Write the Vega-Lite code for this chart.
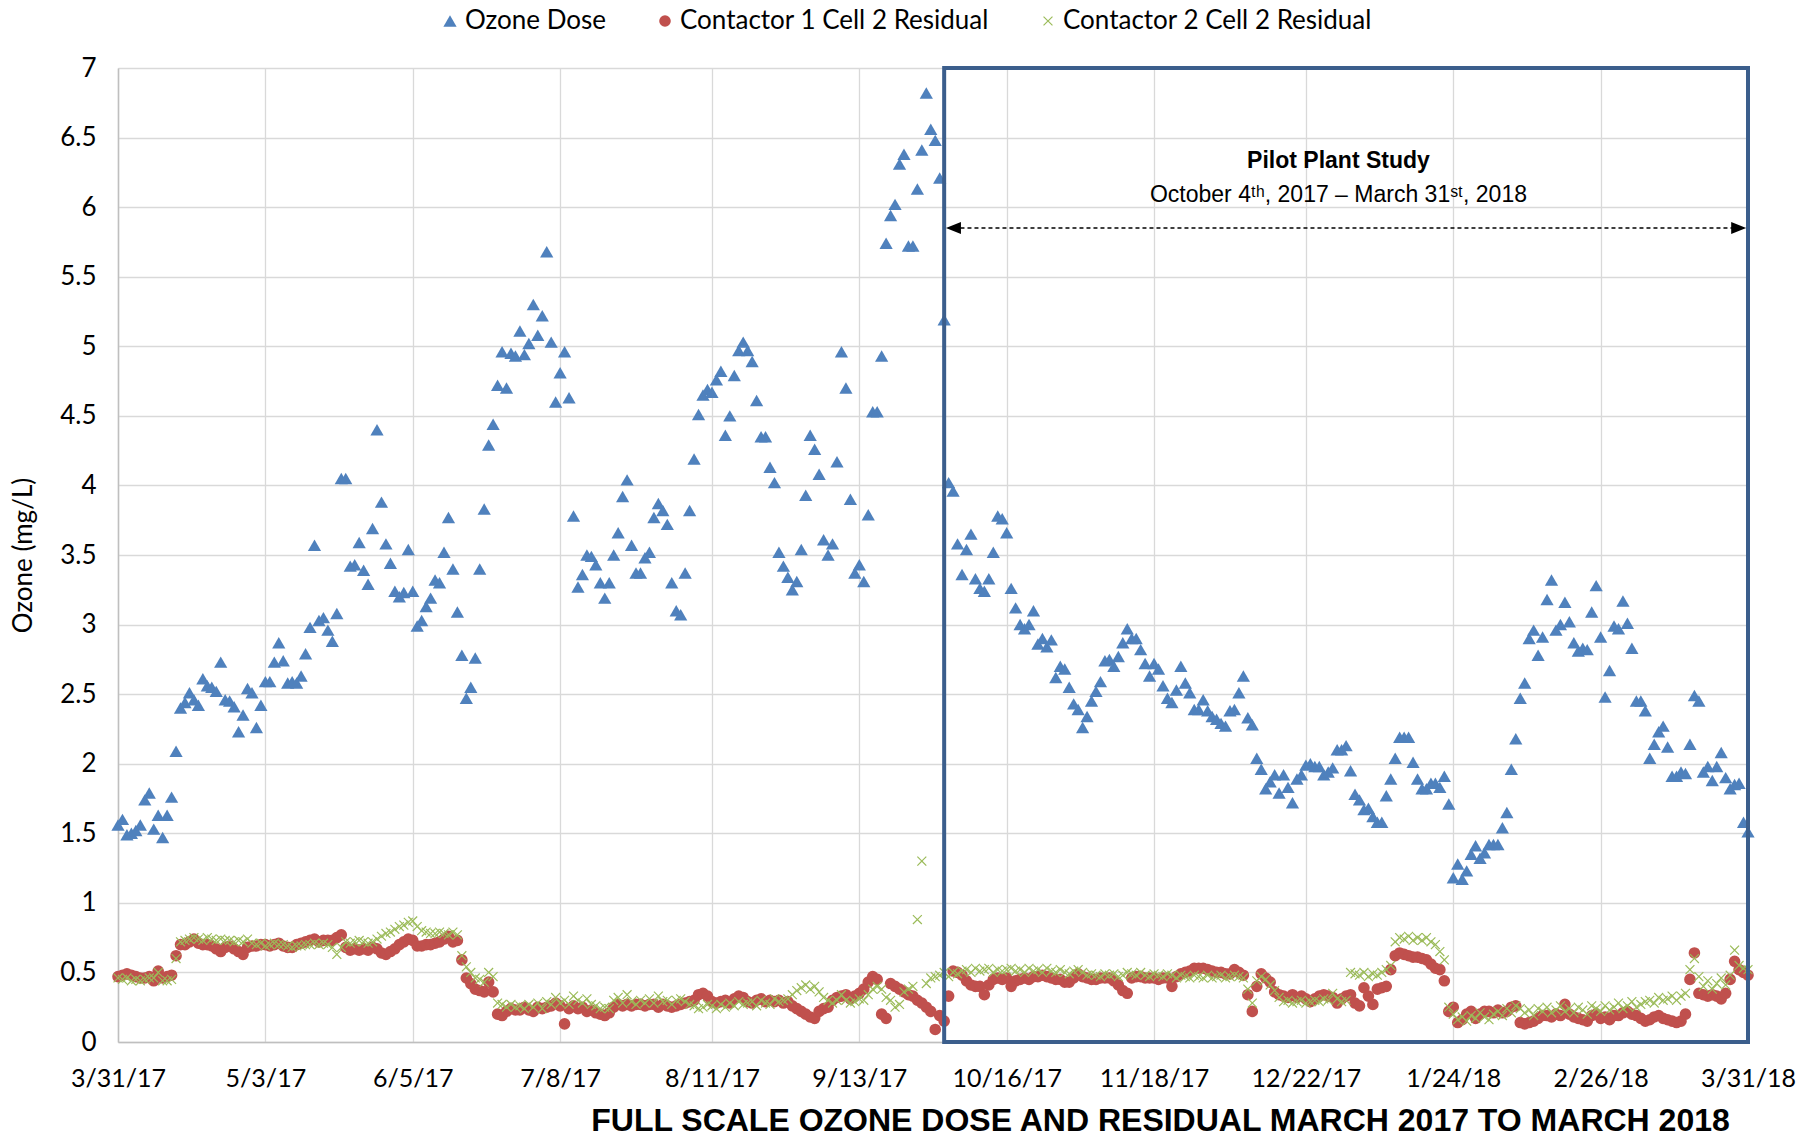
{
"$schema":"https://vega.github.io/schema/vega-lite/v6.json",
"width":1630,"height":974,
"autosize":{"type":"none"},
"padding":{"left":118,"top":68,"right":70,"bottom":96},
"background":"white",
"config":{"font":"Lato","view":{"stroke":null}},
"layer":[
{"data":{"values":[
{"d":"2017-03-31","o":1.56,"a":0.47,"b":0.46},{"d":"2017-04-01","o":1.60,"a":0.48,"b":0.45},{"d":"2017-04-02","o":1.49,"a":0.49,"b":0.46},{"d":"2017-04-03","o":1.50,"a":0.48,"b":0.44},{"d":"2017-04-04","o":1.52,"a":0.47,"b":0.45},{"d":"2017-04-05","o":1.56,"a":0.46,"b":0.44},{"d":"2017-04-06","o":1.74,"a":0.46,"b":0.45},{"d":"2017-04-07","o":1.79,"a":0.47,"b":0.46},{"d":"2017-04-08","o":1.53,"a":0.44,"b":0.46},{"d":"2017-04-09","o":1.63,"a":0.51,"b":0.50},
{"d":"2017-04-10","o":1.47,"a":0.46,"b":0.44},{"d":"2017-04-11","o":1.63,"a":0.47,"b":0.44},{"d":"2017-04-12","o":1.76,"a":0.48,"b":0.45},{"d":"2017-04-13","o":2.09,"a":0.62,"b":0.60},{"d":"2017-04-14","o":2.40,"a":0.70,"b":0.72},{"d":"2017-04-15","o":2.44,"a":0.70,"b":0.73},{"d":"2017-04-16","o":2.51,"a":0.72,"b":0.74},{"d":"2017-04-17","o":2.46,"a":0.74,"b":0.75},{"d":"2017-04-18","o":2.42,"a":0.71,"b":0.74},{"d":"2017-04-19","o":2.61,"a":0.70,"b":0.73},
{"d":"2017-04-20","o":2.56,"a":0.70,"b":0.75},{"d":"2017-04-21","o":2.55,"a":0.69,"b":0.74},{"d":"2017-04-22","o":2.52,"a":0.67,"b":0.73},{"d":"2017-04-23","o":2.73,"a":0.65,"b":0.74},{"d":"2017-04-24","o":2.46,"a":0.68,"b":0.73},{"d":"2017-04-25","o":2.45,"a":0.69,"b":0.73},{"d":"2017-04-26","o":2.41,"a":0.67,"b":0.72},{"d":"2017-04-27","o":2.23,"a":0.65,"b":0.73},{"d":"2017-04-28","o":2.35,"a":0.63,"b":0.72},{"d":"2017-04-29","o":2.54,"a":0.68,"b":0.74},
{"d":"2017-04-30","o":2.51,"a":0.69,"b":0.71},{"d":"2017-05-01","o":2.26,"a":0.69,"b":0.70},{"d":"2017-05-02","o":2.42,"a":0.70,"b":0.71},{"d":"2017-05-03","o":2.59,"a":0.70,"b":0.69},{"d":"2017-05-04","o":2.59,"a":0.69,"b":0.70},{"d":"2017-05-05","o":2.73,"a":0.70,"b":0.71},{"d":"2017-05-06","o":2.87,"a":0.71,"b":0.70},{"d":"2017-05-07","o":2.74,"a":0.69,"b":0.70},{"d":"2017-05-08","o":2.58,"a":0.68,"b":0.69},{"d":"2017-05-09","o":2.59,"a":0.68,"b":0.68},
{"d":"2017-05-10","o":2.58,"a":0.70,"b":0.69},{"d":"2017-05-11","o":2.63,"a":0.71,"b":0.69},{"d":"2017-05-12","o":2.79,"a":0.72,"b":0.70},{"d":"2017-05-13","o":2.98,"a":0.73,"b":0.70},{"d":"2017-05-14","o":3.57,"a":0.74,"b":0.71},{"d":"2017-05-15","o":3.03,"a":0.72,"b":0.70},{"d":"2017-05-16","o":3.05,"a":0.73,"b":0.71},{"d":"2017-05-17","o":2.96,"a":0.73,"b":0.70},{"d":"2017-05-18","o":2.88,"a":0.73,"b":0.68},{"d":"2017-05-19","o":3.08,"a":0.75,"b":0.63},
{"d":"2017-05-20","o":4.05,"a":0.77,"b":0.68},{"d":"2017-05-21","o":4.05,"a":0.68,"b":0.72},{"d":"2017-05-22","o":3.42,"a":0.66,"b":0.71},{"d":"2017-05-23","o":3.43,"a":0.67,"b":0.72},{"d":"2017-05-24","o":3.59,"a":0.66,"b":0.73},{"d":"2017-05-25","o":3.39,"a":0.67,"b":0.72},{"d":"2017-05-26","o":3.29,"a":0.66,"b":0.71},{"d":"2017-05-27","o":3.69,"a":0.68,"b":0.72},{"d":"2017-05-28","o":4.40,"a":0.67,"b":0.74},{"d":"2017-05-29","o":3.88,"a":0.64,"b":0.76},
{"d":"2017-05-30","o":3.58,"a":0.63,"b":0.78},{"d":"2017-05-31","o":3.44,"a":0.65,"b":0.79},{"d":"2017-06-01","o":3.24,"a":0.67,"b":0.81},{"d":"2017-06-02","o":3.20,"a":0.70,"b":0.83},{"d":"2017-06-03","o":3.23,"a":0.72,"b":0.84},{"d":"2017-06-04","o":3.54,"a":0.74,"b":0.86},{"d":"2017-06-05","o":3.24,"a":0.73,"b":0.87},{"d":"2017-06-06","o":2.99,"a":0.69,"b":0.83},{"d":"2017-06-07","o":3.03,"a":0.69,"b":0.80},{"d":"2017-06-08","o":3.13,"a":0.70,"b":0.79},
{"d":"2017-06-09","o":3.19,"a":0.70,"b":0.78},{"d":"2017-06-10","o":3.32,"a":0.71,"b":0.78},{"d":"2017-06-11","o":3.30,"a":0.72,"b":0.79},{"d":"2017-06-12","o":3.52,"a":0.74,"b":0.78},{"d":"2017-06-13","o":3.77,"a":0.76,"b":0.77},{"d":"2017-06-14","o":3.40,"a":0.72,"b":0.79},{"d":"2017-06-15","o":3.09,"a":0.73,"b":0.77},{"d":"2017-06-16","o":2.78,"a":0.59,"b":0.62},{"d":"2017-06-17","o":2.47,"a":0.46,"b":0.54},{"d":"2017-06-18","o":2.55,"a":0.42,"b":0.50},
{"d":"2017-06-19","o":2.76,"a":0.38,"b":0.46},{"d":"2017-06-20","o":3.40,"a":0.37,"b":0.45},{"d":"2017-06-21","o":3.83,"a":0.36,"b":0.43},{"d":"2017-06-22","o":4.29,"a":0.43,"b":0.50},{"d":"2017-06-23","o":4.44,"a":0.36,"b":0.47},{"d":"2017-06-24","o":4.72,"a":0.20,"b":0.28},{"d":"2017-06-25","o":4.96,"a":0.19,"b":0.27},{"d":"2017-06-26","o":4.70,"a":0.22,"b":0.25},{"d":"2017-06-27","o":4.95,"a":0.24,"b":0.27},{"d":"2017-06-28","o":4.93,"a":0.23,"b":0.25},
{"d":"2017-06-29","o":5.11,"a":0.23,"b":0.26},{"d":"2017-06-30","o":4.94,"a":0.25,"b":0.24},{"d":"2017-07-01","o":5.02,"a":0.23,"b":0.27},{"d":"2017-07-02","o":5.30,"a":0.22,"b":0.25},{"d":"2017-07-03","o":5.08,"a":0.25,"b":0.28},{"d":"2017-07-04","o":5.22,"a":0.24,"b":0.24},{"d":"2017-07-05","o":5.68,"a":0.25,"b":0.29},{"d":"2017-07-06","o":5.03,"a":0.26,"b":0.27},{"d":"2017-07-07","o":4.60,"a":0.28,"b":0.32},{"d":"2017-07-08","o":4.81,"a":0.26,"b":0.28},
{"d":"2017-07-09","o":4.96,"a":0.13,"b":0.30},{"d":"2017-07-10","o":4.63,"a":0.24,"b":0.27},{"d":"2017-07-11","o":3.78,"a":0.26,"b":0.33},{"d":"2017-07-12","o":3.27,"a":0.24,"b":0.30},{"d":"2017-07-13","o":3.36,"a":0.25,"b":0.28},{"d":"2017-07-14","o":3.50,"a":0.22,"b":0.31},{"d":"2017-07-15","o":3.49,"a":0.23,"b":0.27},{"d":"2017-07-16","o":3.43,"a":0.21,"b":0.26},{"d":"2017-07-17","o":3.30,"a":0.20,"b":0.24},{"d":"2017-07-18","o":3.19,"a":0.19,"b":0.25},
{"d":"2017-07-19","o":3.30,"a":0.21,"b":0.24},{"d":"2017-07-20","o":3.50,"a":0.25,"b":0.30},{"d":"2017-07-21","o":3.66,"a":0.27,"b":0.32},{"d":"2017-07-22","o":3.92,"a":0.26,"b":0.28},{"d":"2017-07-23","o":4.04,"a":0.27,"b":0.34},{"d":"2017-07-24","o":3.57,"a":0.26,"b":0.29},{"d":"2017-07-25","o":3.37,"a":0.27,"b":0.27},{"d":"2017-07-26","o":3.37,"a":0.27,"b":0.30},{"d":"2017-07-27","o":3.48,"a":0.26,"b":0.28},{"d":"2017-07-28","o":3.52,"a":0.27,"b":0.31},
{"d":"2017-07-29","o":3.77,"a":0.27,"b":0.28},{"d":"2017-07-30","o":3.87,"a":0.25,"b":0.33},{"d":"2017-07-31","o":3.82,"a":0.27,"b":0.29},{"d":"2017-08-01","o":3.72,"a":0.26,"b":0.30},{"d":"2017-08-02","o":3.30,"a":0.25,"b":0.27},{"d":"2017-08-03","o":3.10,"a":0.26,"b":0.30},{"d":"2017-08-04","o":3.07,"a":0.27,"b":0.31},{"d":"2017-08-05","o":3.37,"a":0.28,"b":0.29},{"d":"2017-08-06","o":3.82,"a":0.29,"b":0.27},{"d":"2017-08-07","o":4.19,"a":0.30,"b":0.26},
{"d":"2017-08-08","o":4.51,"a":0.34,"b":0.24},{"d":"2017-08-09","o":4.65,"a":0.35,"b":0.25},{"d":"2017-08-10","o":4.69,"a":0.33,"b":0.27},{"d":"2017-08-11","o":4.67,"a":0.29,"b":0.26},{"d":"2017-08-12","o":4.76,"a":0.28,"b":0.24},{"d":"2017-08-13","o":4.82,"a":0.29,"b":0.27},{"d":"2017-08-14","o":4.36,"a":0.30,"b":0.25},{"d":"2017-08-15","o":4.50,"a":0.28,"b":0.28},{"d":"2017-08-16","o":4.79,"a":0.31,"b":0.26},{"d":"2017-08-17","o":4.97,"a":0.33,"b":0.29},
{"d":"2017-08-18","o":5.03,"a":0.32,"b":0.27},{"d":"2017-08-19","o":4.97,"a":0.29,"b":0.28},{"d":"2017-08-20","o":4.89,"a":0.28,"b":0.29},{"d":"2017-08-21","o":4.61,"a":0.30,"b":0.26},{"d":"2017-08-22","o":4.35,"a":0.31,"b":0.30},{"d":"2017-08-23","o":4.35,"a":0.29,"b":0.28},{"d":"2017-08-24","o":4.13,"a":0.30,"b":0.27},{"d":"2017-08-25","o":4.02,"a":0.29,"b":0.31},{"d":"2017-08-26","o":3.52,"a":0.30,"b":0.29},{"d":"2017-08-27","o":3.42,"a":0.28,"b":0.30},
{"d":"2017-08-28","o":3.34,"a":0.29,"b":0.31},{"d":"2017-08-29","o":3.25,"a":0.26,"b":0.34},{"d":"2017-08-30","o":3.31,"a":0.24,"b":0.37},{"d":"2017-08-31","o":3.54,"a":0.22,"b":0.39},{"d":"2017-09-01","o":3.93,"a":0.20,"b":0.41},{"d":"2017-09-02","o":4.36,"a":0.18,"b":0.38},{"d":"2017-09-03","o":4.26,"a":0.17,"b":0.40},{"d":"2017-09-04","o":4.08,"a":0.22,"b":0.36},{"d":"2017-09-05","o":3.61,"a":0.24,"b":0.32},{"d":"2017-09-06","o":3.50,"a":0.25,"b":0.30},
{"d":"2017-09-07","o":3.58,"a":0.30,"b":0.28},{"d":"2017-09-08","o":4.17,"a":0.32,"b":0.30},{"d":"2017-09-09","o":4.96,"a":0.33,"b":0.34},{"d":"2017-09-10","o":4.70,"a":0.34,"b":0.30},{"d":"2017-09-11","o":3.90,"a":0.31,"b":0.28},{"d":"2017-09-12","o":3.37,"a":0.33,"b":0.29},{"d":"2017-09-13","o":3.43,"a":0.35,"b":0.31},{"d":"2017-09-14","o":3.31,"a":0.38,"b":0.30},{"d":"2017-09-15","o":3.79,"a":0.43,"b":0.34},{"d":"2017-09-16","o":4.53,"a":0.47,"b":0.38},
{"d":"2017-09-17","o":4.53,"a":0.45,"b":0.40},{"d":"2017-09-18","o":4.93,"a":0.20,"b":0.38},{"d":"2017-09-19","o":5.74,"a":0.17,"b":0.32},{"d":"2017-09-20","o":5.94,"a":0.42,"b":0.30},{"d":"2017-09-21","o":6.02,"a":0.40,"b":0.25},{"d":"2017-09-22","o":6.31,"a":0.38,"b":0.27},{"d":"2017-09-23","o":6.38,"a":0.36,"b":0.36},{"d":"2017-09-24","o":5.72,"a":0.34,"b":0.38},{"d":"2017-09-25","o":5.72,"a":0.33,"b":0.40},{"d":"2017-09-26","o":6.13,"a":0.30,"b":0.88},
{"d":"2017-09-27","o":6.41,"a":0.28,"b":1.30},{"d":"2017-09-28","o":6.82,"a":0.25,"b":0.42},{"d":"2017-09-29","o":6.56,"a":0.22,"b":0.46},{"d":"2017-09-30","o":6.48,"a":0.09,"b":0.47},{"d":"2017-10-01","o":6.21,"a":0.19,"b":0.48},{"d":"2017-10-02","o":5.19,"a":0.15,"b":0.50},{"d":"2017-10-03","o":4.02,"a":0.33,"b":0.47},{"d":"2017-10-04","o":3.96,"a":0.51,"b":0.50},{"d":"2017-10-05","o":3.58,"a":0.50,"b":0.49},{"d":"2017-10-06","o":3.36,"a":0.48,"b":0.51},
{"d":"2017-10-07","o":3.54,"a":0.44,"b":0.52},{"d":"2017-10-08","o":3.65,"a":0.41,"b":0.50},{"d":"2017-10-09","o":3.33,"a":0.40,"b":0.53},{"d":"2017-10-10","o":3.26,"a":0.40,"b":0.51},{"d":"2017-10-11","o":3.24,"a":0.34,"b":0.52},{"d":"2017-10-12","o":3.33,"a":0.41,"b":0.53},{"d":"2017-10-13","o":3.52,"a":0.45,"b":0.50},{"d":"2017-10-14","o":3.78,"a":0.46,"b":0.52},{"d":"2017-10-15","o":3.76,"a":0.45,"b":0.51},{"d":"2017-10-16","o":3.66,"a":0.46,"b":0.52},
{"d":"2017-10-17","o":3.26,"a":0.40,"b":0.53},{"d":"2017-10-18","o":3.12,"a":0.44,"b":0.51},{"d":"2017-10-19","o":3.00,"a":0.45,"b":0.52},{"d":"2017-10-20","o":2.97,"a":0.46,"b":0.50},{"d":"2017-10-21","o":3.00,"a":0.45,"b":0.53},{"d":"2017-10-22","o":3.10,"a":0.47,"b":0.51},{"d":"2017-10-23","o":2.86,"a":0.47,"b":0.52},{"d":"2017-10-24","o":2.90,"a":0.48,"b":0.50},{"d":"2017-10-25","o":2.84,"a":0.47,"b":0.53},{"d":"2017-10-26","o":2.89,"a":0.46,"b":0.51},
{"d":"2017-10-27","o":2.62,"a":0.45,"b":0.50},{"d":"2017-10-28","o":2.70,"a":0.45,"b":0.52},{"d":"2017-10-29","o":2.68,"a":0.43,"b":0.50},{"d":"2017-10-30","o":2.55,"a":0.43,"b":0.49},{"d":"2017-10-31","o":2.43,"a":0.46,"b":0.51},{"d":"2017-11-01","o":2.39,"a":0.49,"b":0.52},{"d":"2017-11-02","o":2.26,"a":0.47,"b":0.50},{"d":"2017-11-03","o":2.34,"a":0.46,"b":0.48},{"d":"2017-11-04","o":2.45,"a":0.45,"b":0.49},{"d":"2017-11-05","o":2.52,"a":0.45,"b":0.48},
{"d":"2017-11-06","o":2.59,"a":0.46,"b":0.47},{"d":"2017-11-07","o":2.74,"a":0.46,"b":0.49},{"d":"2017-11-08","o":2.75,"a":0.46,"b":0.48},{"d":"2017-11-09","o":2.70,"a":0.44,"b":0.49},{"d":"2017-11-10","o":2.77,"a":0.41,"b":0.47},{"d":"2017-11-11","o":2.87,"a":0.37,"b":0.48},{"d":"2017-11-12","o":2.97,"a":0.35,"b":0.50},{"d":"2017-11-13","o":2.90,"a":0.46,"b":0.49},{"d":"2017-11-14","o":2.90,"a":0.47,"b":0.48},{"d":"2017-11-15","o":2.82,"a":0.47,"b":0.50},
{"d":"2017-11-16","o":2.72,"a":0.46,"b":0.48},{"d":"2017-11-17","o":2.63,"a":0.46,"b":0.47},{"d":"2017-11-18","o":2.72,"a":0.46,"b":0.49},{"d":"2017-11-19","o":2.68,"a":0.45,"b":0.48},{"d":"2017-11-20","o":2.56,"a":0.46,"b":0.47},{"d":"2017-11-21","o":2.47,"a":0.46,"b":0.49},{"d":"2017-11-22","o":2.44,"a":0.40,"b":0.48},{"d":"2017-11-23","o":2.53,"a":0.47,"b":0.46},{"d":"2017-11-24","o":2.70,"a":0.49,"b":0.48},{"d":"2017-11-25","o":2.58,"a":0.50,"b":0.47},
{"d":"2017-11-26","o":2.51,"a":0.51,"b":0.46},{"d":"2017-11-27","o":2.39,"a":0.53,"b":0.48},{"d":"2017-11-28","o":2.39,"a":0.53,"b":0.47},{"d":"2017-11-29","o":2.46,"a":0.53,"b":0.46},{"d":"2017-11-30","o":2.38,"a":0.52,"b":0.48},{"d":"2017-12-01","o":2.34,"a":0.51,"b":0.46},{"d":"2017-12-02","o":2.32,"a":0.50,"b":0.47},{"d":"2017-12-03","o":2.29,"a":0.50,"b":0.48},{"d":"2017-12-04","o":2.27,"a":0.49,"b":0.46},{"d":"2017-12-05","o":2.38,"a":0.49,"b":0.47},
{"d":"2017-12-06","o":2.39,"a":0.52,"b":0.48},{"d":"2017-12-07","o":2.51,"a":0.50,"b":0.47},{"d":"2017-12-08","o":2.63,"a":0.48,"b":0.46},{"d":"2017-12-09","o":2.33,"a":0.34,"b":0.38},{"d":"2017-12-10","o":2.28,"a":0.22,"b":0.28},{"d":"2017-12-11","o":2.04,"a":0.40,"b":0.44},{"d":"2017-12-12","o":1.96,"a":0.49,"b":0.47},{"d":"2017-12-13","o":1.82,"a":0.46,"b":0.45},{"d":"2017-12-14","o":1.87,"a":0.43,"b":0.41},{"d":"2017-12-15","o":1.92,"a":0.36,"b":0.37},
{"d":"2017-12-16","o":1.79,"a":0.34,"b":0.32},{"d":"2017-12-17","o":1.92,"a":0.33,"b":0.29},{"d":"2017-12-18","o":1.83,"a":0.32,"b":0.30},{"d":"2017-12-19","o":1.72,"a":0.34,"b":0.28},{"d":"2017-12-20","o":1.89,"a":0.32,"b":0.29},{"d":"2017-12-21","o":1.92,"a":0.33,"b":0.30},{"d":"2017-12-22","o":1.99,"a":0.31,"b":0.28},{"d":"2017-12-23","o":2.00,"a":0.29,"b":0.29},{"d":"2017-12-24","o":1.98,"a":0.31,"b":0.30},{"d":"2017-12-25","o":1.98,"a":0.33,"b":0.29},
{"d":"2017-12-26","o":1.92,"a":0.34,"b":0.31},{"d":"2017-12-27","o":1.94,"a":0.33,"b":0.30},{"d":"2017-12-28","o":1.97,"a":0.32,"b":0.35},{"d":"2017-12-29","o":2.10,"a":0.28,"b":0.31},{"d":"2017-12-30","o":2.10,"a":0.31,"b":0.29},{"d":"2017-12-31","o":2.13,"a":0.33,"b":0.30},{"d":"2018-01-01","o":1.95,"a":0.34,"b":0.50},{"d":"2018-01-02","o":1.78,"a":0.28,"b":0.49},{"d":"2018-01-03","o":1.74,"a":0.26,"b":0.48},{"d":"2018-01-04","o":1.67,"a":0.39,"b":0.50},
{"d":"2018-01-05","o":1.68,"a":0.33,"b":0.47},{"d":"2018-01-06","o":1.62,"a":0.27,"b":0.49},{"d":"2018-01-07","o":1.58,"a":0.38,"b":0.48},{"d":"2018-01-08","o":1.58,"a":0.39,"b":0.50},{"d":"2018-01-09","o":1.77,"a":0.40,"b":0.52},{"d":"2018-01-10","o":1.89,"a":0.52,"b":0.55},{"d":"2018-01-11","o":2.04,"a":0.62,"b":0.72},{"d":"2018-01-12","o":2.19,"a":0.64,"b":0.75},{"d":"2018-01-13","o":2.19,"a":0.63,"b":0.74},{"d":"2018-01-14","o":2.19,"a":0.62,"b":0.76},
{"d":"2018-01-15","o":2.01,"a":0.61,"b":0.73},{"d":"2018-01-16","o":1.89,"a":0.61,"b":0.75},{"d":"2018-01-17","o":1.82,"a":0.60,"b":0.73},{"d":"2018-01-18","o":1.82,"a":0.59,"b":0.75},{"d":"2018-01-19","o":1.86,"a":0.56,"b":0.72},{"d":"2018-01-20","o":1.86,"a":0.53,"b":0.70},{"d":"2018-01-21","o":1.83,"a":0.52,"b":0.65},{"d":"2018-01-22","o":1.91,"a":0.44,"b":0.59},{"d":"2018-01-23","o":1.71,"a":0.22,"b":0.25},{"d":"2018-01-24","o":1.18,"a":0.25,"b":0.20},
{"d":"2018-01-25","o":1.28,"a":0.14,"b":0.16},{"d":"2018-01-26","o":1.17,"a":0.16,"b":0.18},{"d":"2018-01-27","o":1.23,"a":0.20,"b":0.15},{"d":"2018-01-28","o":1.35,"a":0.22,"b":0.19},{"d":"2018-01-29","o":1.41,"a":0.17,"b":0.17},{"d":"2018-01-30","o":1.32,"a":0.20,"b":0.21},{"d":"2018-01-31","o":1.36,"a":0.22,"b":0.18},{"d":"2018-02-01","o":1.42,"a":0.22,"b":0.16},{"d":"2018-02-02","o":1.42,"a":0.21,"b":0.20},{"d":"2018-02-03","o":1.42,"a":0.23,"b":0.22},
{"d":"2018-02-04","o":1.54,"a":0.21,"b":0.19},{"d":"2018-02-05","o":1.65,"a":0.22,"b":0.24},{"d":"2018-02-06","o":1.96,"a":0.25,"b":0.21},{"d":"2018-02-07","o":2.18,"a":0.26,"b":0.26},{"d":"2018-02-08","o":2.47,"a":0.14,"b":0.24},{"d":"2018-02-09","o":2.58,"a":0.13,"b":0.21},{"d":"2018-02-10","o":2.90,"a":0.14,"b":0.23},{"d":"2018-02-11","o":2.96,"a":0.15,"b":0.19},{"d":"2018-02-12","o":2.78,"a":0.17,"b":0.24},{"d":"2018-02-13","o":2.91,"a":0.19,"b":0.22},
{"d":"2018-02-14","o":3.18,"a":0.19,"b":0.25},{"d":"2018-02-15","o":3.32,"a":0.18,"b":0.21},{"d":"2018-02-16","o":2.96,"a":0.20,"b":0.23},{"d":"2018-02-17","o":3.00,"a":0.19,"b":0.26},{"d":"2018-02-18","o":3.16,"a":0.27,"b":0.22},{"d":"2018-02-19","o":3.02,"a":0.20,"b":0.24},{"d":"2018-02-20","o":2.87,"a":0.18,"b":0.21},{"d":"2018-02-21","o":2.81,"a":0.17,"b":0.25},{"d":"2018-02-22","o":2.83,"a":0.16,"b":0.23},{"d":"2018-02-23","o":2.82,"a":0.15,"b":0.20},
{"d":"2018-02-24","o":3.09,"a":0.19,"b":0.26},{"d":"2018-02-25","o":3.28,"a":0.20,"b":0.24},{"d":"2018-02-26","o":2.91,"a":0.17,"b":0.22},{"d":"2018-02-27","o":2.48,"a":0.18,"b":0.26},{"d":"2018-02-28","o":2.67,"a":0.16,"b":0.23},{"d":"2018-03-01","o":2.99,"a":0.19,"b":0.25},{"d":"2018-03-02","o":2.97,"a":0.19,"b":0.28},{"d":"2018-03-03","o":3.17,"a":0.21,"b":0.24},{"d":"2018-03-04","o":3.01,"a":0.22,"b":0.26},{"d":"2018-03-05","o":2.83,"a":0.20,"b":0.29},
{"d":"2018-03-06","o":2.45,"a":0.19,"b":0.25},{"d":"2018-03-07","o":2.45,"a":0.17,"b":0.27},{"d":"2018-03-08","o":2.38,"a":0.15,"b":0.29},{"d":"2018-03-09","o":2.04,"a":0.16,"b":0.30},{"d":"2018-03-10","o":2.14,"a":0.18,"b":0.28},{"d":"2018-03-11","o":2.23,"a":0.19,"b":0.32},{"d":"2018-03-12","o":2.27,"a":0.17,"b":0.30},{"d":"2018-03-13","o":2.12,"a":0.16,"b":0.31},{"d":"2018-03-14","o":1.91,"a":0.15,"b":0.33},{"d":"2018-03-15","o":1.91,"a":0.14,"b":0.30},
{"d":"2018-03-16","o":1.94,"a":0.15,"b":0.33},{"d":"2018-03-17","o":1.93,"a":0.20,"b":0.35},{"d":"2018-03-18","o":2.14,"a":0.45,"b":0.52},{"d":"2018-03-19","o":2.49,"a":0.64,"b":0.60},{"d":"2018-03-20","o":2.45,"a":0.35,"b":0.47},{"d":"2018-03-21","o":1.94,"a":0.34,"b":0.40},{"d":"2018-03-22","o":1.98,"a":0.33,"b":0.44},{"d":"2018-03-23","o":1.88,"a":0.34,"b":0.38},{"d":"2018-03-24","o":1.98,"a":0.33,"b":0.42},{"d":"2018-03-25","o":2.08,"a":0.31,"b":0.46},
{"d":"2018-03-26","o":1.90,"a":0.35,"b":0.41},{"d":"2018-03-27","o":1.82,"a":0.45,"b":0.48},{"d":"2018-03-28","o":1.85,"a":0.58,"b":0.66},{"d":"2018-03-29","o":1.86,"a":0.52,"b":0.55},{"d":"2018-03-30","o":1.58,"a":0.50,"b":0.53},{"d":"2018-03-31","o":1.51,"a":0.48,"b":0.52}
]},
"transform":[{"fold":["o","a","b"],"as":["s","v"]}],
"mark":{"type":"point","filled":true,"opacity":1,"strokeWidth":0},
"encoding":{
"x":{"field":"d","type":"temporal",
"scale":{"type":"utc","nice":false,"domain":[{"year":2017,"month":3,"date":31,"utc":true},{"year":2018,"month":3,"date":31,"utc":true}]},
"axis":{"values":[{"year":2017,"month":3,"date":31,"utc":true},{"year":2017,"month":5,"date":3,"utc":true},{"year":2017,"month":6,"date":5,"utc":true},{"year":2017,"month":7,"date":8,"utc":true},{"year":2017,"month":8,"date":11,"utc":true},{"year":2017,"month":9,"date":13,"utc":true},{"year":2017,"month":10,"date":16,"utc":true},{"year":2017,"month":11,"date":18,"utc":true},{"year":2017,"month":12,"date":22,"utc":true},{"year":2018,"month":1,"date":24,"utc":true},{"year":2018,"month":2,"date":26,"utc":true},{"year":2018,"month":3,"date":31,"utc":true}],
"labelExpr":"utcFormat(datum.value, '%-m/%-d/%y')","grid":true,"gridColor":"#d9d9d9","gridWidth":1.3,"ticks":false,"domainColor":"#bfbfbf","domainWidth":1.5,
"labelFont":"Lato","labelFontSize":25,"labelColor":"#000","labelPadding":24,"labelFlush":false,"labelOverlap":false,"labelBound":false,
"title":"FULL SCALE OZONE DOSE AND RESIDUAL MARCH 2017 TO MARCH 2018","titleFont":"Liberation Sans","titleFontSize":32,"titleFontWeight":"bold","titleColor":"#000","titleX":1042,"titleY":78,"titleAlign":"center","titleBaseline":"middle","titleAnchor":"start"}},
"y":{"field":"v","type":"quantitative","scale":{"domain":[0,7],"nice":false,"zero":true},
"axis":{"values":[0,0.5,1,1.5,2,2.5,3,3.5,4,4.5,5,5.5,6,6.5,7],"format":".1~f","grid":true,"gridColor":"#d9d9d9","gridWidth":1.3,"ticks":false,"domainColor":"#bfbfbf","domainWidth":1.5,
"labelFont":"Lato","labelFontSize":26,"labelColor":"#000","labelPadding":22,"labelFlush":false,
"title":"Ozone (mg/L)","titleFont":"Lato","titleFontSize":26,"titleFontWeight":"normal","titleColor":"#000","titleX":-95,"titleY":487,"titleAngle":270,"titleAlign":"center","titleBaseline":"middle","titleAnchor":"start"}},
"color":{"field":"s","type":"nominal","scale":{"domain":["o","a","b"],"range":["#4F81BD","#C0504D","#9BBB59"]},
"legend":{"orient":"none","legendX":319,"legendY":-60,"direction":"horizontal","title":null,"padding":0,"columnPadding":46,"labelOffset":2,"labelLimit":0,"symbolSize":100,"labelFont":"Lato","labelFontSize":26,"labelColor":"#000",
"labelExpr":"datum.label == 'o' ? 'Ozone Dose' : datum.label == 'a' ? 'Contactor 1 Cell 2 Residual' : 'Contactor 2 Cell 2 Residual'"}},
"shape":{"field":"s","type":"nominal","scale":{"domain":["o","a","b"],"range":["triangle-up","circle","M-1,-0.83L-0.83,-1L0,-0.17L0.83,-1L1,-0.83L0.17,0L1,0.83L0.83,1L0,0.17L-0.83,1L-1,0.83L-0.17,0Z"]},
"legend":{"orient":"none","legendX":319,"legendY":-60,"direction":"horizontal","title":null,"padding":0,"columnPadding":46,"labelOffset":2,"labelLimit":0,"symbolSize":100,"labelFont":"Lato","labelFontSize":26,"labelColor":"#000",
"labelExpr":"datum.label == 'o' ? 'Ozone Dose' : datum.label == 'a' ? 'Contactor 1 Cell 2 Residual' : 'Contactor 2 Cell 2 Residual'"}},
"size":{"field":"s","type":"nominal","scale":{"domain":["o","a","b"],"range":[175,95,150]},"legend":null},
"order":{"field":"s","sort":"ascending"}
}},
{"data":{"values":[{"s":"2017-10-02","e":"2018-03-31","lo":0,"hi":7}]},
"mark":{"type":"rect","fillOpacity":0,"stroke":"#3B5E8C","strokeWidth":4},
"encoding":{"x":{"field":"s","type":"temporal","scale":{"type":"utc"}},"x2":{"field":"e"},"y":{"field":"lo","type":"quantitative"},"y2":{"field":"hi"}}},
{"data":{"values":[{"x1":"2017-10-04T02:00:00Z","x2":"2018-03-28T22:00:00Z","y":5.85}]},
"mark":{"type":"rule","color":"#000","strokeWidth":1.5,"strokeDash":[4,3]},
"encoding":{"x":{"field":"x1","type":"temporal","scale":{"type":"utc"}},"x2":{"field":"x2"},"y":{"field":"y","type":"quantitative"}}},
{"data":{"values":[{"x":"2017-10-04T02:00:00Z","y":5.85,"sh":"M-1,0L1,-0.8L1,0.8Z"},{"x":"2018-03-28T22:00:00Z","y":5.85,"sh":"M1,0L-1,-0.8L-1,0.8Z"}]},
"mark":{"type":"point","filled":true,"color":"#000","size":225,"opacity":1},
"encoding":{"x":{"field":"x","type":"temporal","scale":{"type":"utc"}},"y":{"field":"y","type":"quantitative"},"shape":{"field":"sh","type":"nominal","scale":null}}},
{"data":{"values":[{"d":"2017-12-29T07:00:00Z","v":6.33,"t":"Pilot Plant Study"}]},
"mark":{"type":"text","font":"Liberation Sans","fontSize":23,"fontWeight":"bold","color":"#000","align":"center","baseline":"middle"},
"encoding":{"x":{"field":"d","type":"temporal","scale":{"type":"utc"}},"y":{"field":"v","type":"quantitative"},"text":{"field":"t"}}},
{"data":{"values":[{"d":"2017-12-29T07:00:00Z","v":6.09,"t":"October 4ᵗʰ, 2017 – March 31ˢᵗ, 2018"}]},
"mark":{"type":"text","font":"Liberation Sans","fontSize":23,"fontWeight":"normal","color":"#000","align":"center","baseline":"middle"},
"encoding":{"x":{"field":"d","type":"temporal","scale":{"type":"utc"}},"y":{"field":"v","type":"quantitative"},"text":{"field":"t"}}}
]
}
